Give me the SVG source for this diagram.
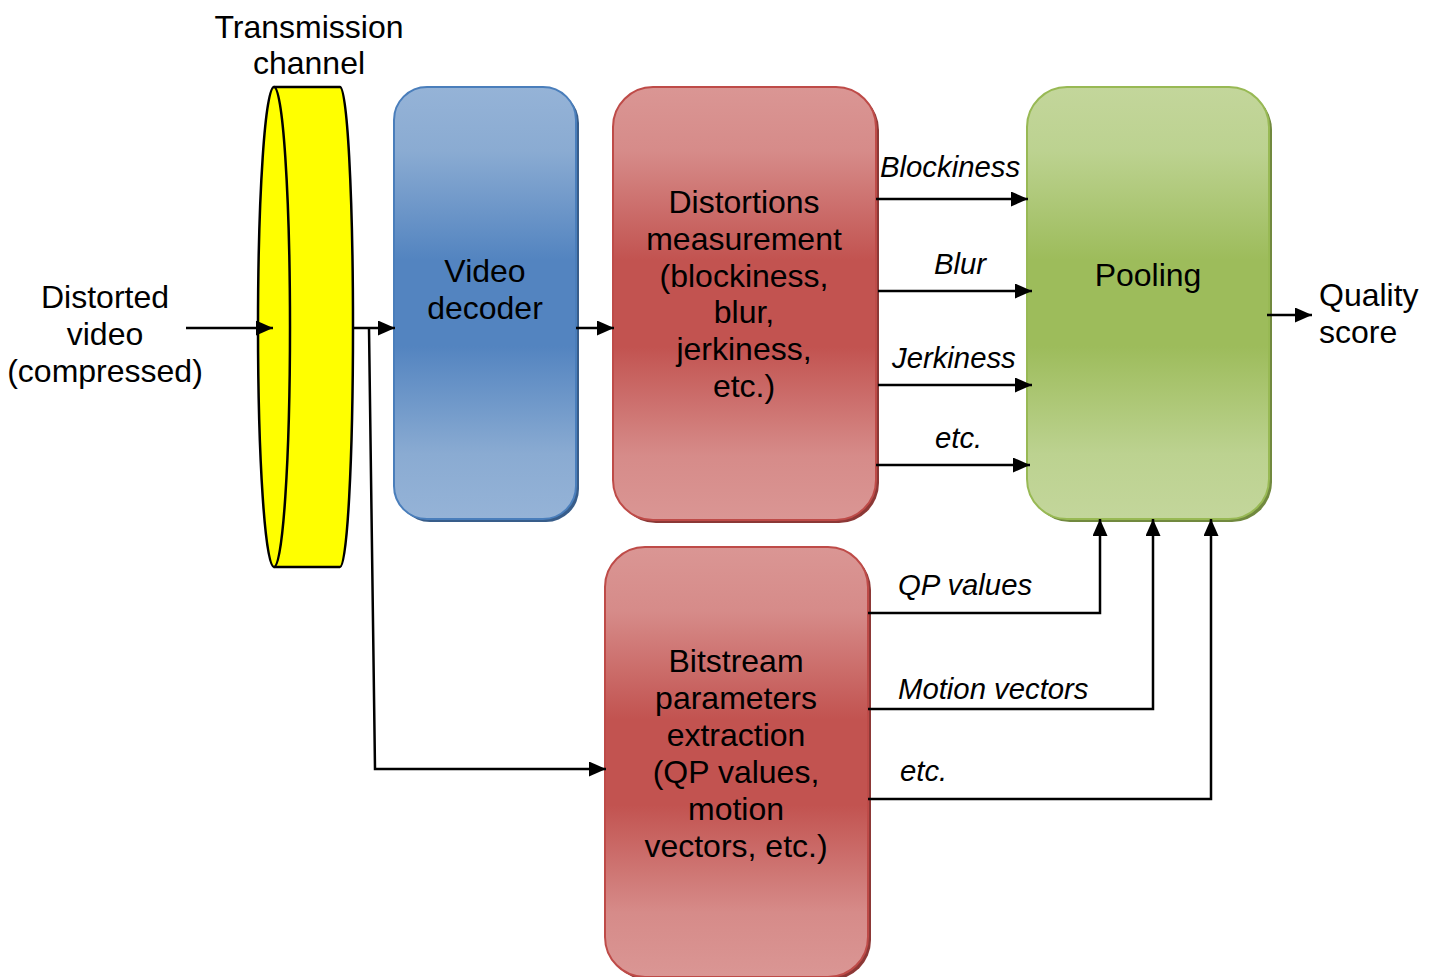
<svg xmlns="http://www.w3.org/2000/svg" width="1435" height="977" viewBox="0 0 1435 977">
<defs>
<linearGradient id="gBlue" x1="0" y1="0" x2="0" y2="1">
<stop offset="0" stop-color="#95b3d7"/><stop offset="0.15" stop-color="#8aabd2"/><stop offset="0.4" stop-color="#5384c0"/><stop offset="0.6" stop-color="#5384c0"/><stop offset="0.85" stop-color="#8aabd2"/><stop offset="1" stop-color="#95b3d7"/>
</linearGradient>
<linearGradient id="gRed" x1="0" y1="0" x2="0" y2="1">
<stop offset="0" stop-color="#da9694"/><stop offset="0.15" stop-color="#d68b89"/><stop offset="0.4" stop-color="#c25350"/><stop offset="0.6" stop-color="#c25350"/><stop offset="0.85" stop-color="#d68b89"/><stop offset="1" stop-color="#da9694"/>
</linearGradient>
<linearGradient id="gGreen" x1="0" y1="0" x2="0" y2="1">
<stop offset="0" stop-color="#c3d69b"/><stop offset="0.15" stop-color="#bcd290"/><stop offset="0.4" stop-color="#9dbc5b"/><stop offset="0.6" stop-color="#9dbc5b"/><stop offset="0.85" stop-color="#bcd290"/><stop offset="1" stop-color="#c3d69b"/>
</linearGradient>
<marker id="arr" markerWidth="17" markerHeight="15" refX="17" refY="7.5" orient="auto" markerUnits="userSpaceOnUse">
<path d="M0,0 L17,7.5 L0,15 Z" fill="#000"/>
</marker>
<style>
text{font-family:"Liberation Sans",Arial,sans-serif;fill:#000}
.lbl{font-size:32px;text-anchor:middle}
.it{font-size:29.3px;font-style:italic}
.conn{stroke:#000;stroke-width:2.5;fill:none}
</style>
</defs>

<g id="transmission-channel">
<path d="M275,87 L340,87 A13,240 0 0 1 340,567 L275,567 Z" fill="#ffff00" stroke="#000" stroke-width="2.5"/>
<ellipse cx="274" cy="327" rx="16" ry="240" fill="#ffff00" stroke="#000" stroke-width="2.5"/>
<text class="lbl" x="309" y="38">Transmission</text>
<text class="lbl" x="309" y="74">channel</text>
</g>

<g id="input-label">
<text class="lbl" x="105" y="308">Distorted</text>
<text class="lbl" x="105" y="345">video</text>
<text class="lbl" x="105" y="382">(compressed)</text>
</g>

<g id="video-decoder">
<rect x="397" y="90" width="182" height="432" rx="33" fill="#385d8a"/>
<rect x="394" y="87" width="182" height="432" rx="33" fill="url(#gBlue)" stroke="#4a7ebb" stroke-width="2"/>
<text class="lbl" x="485" y="282">Video</text>
<text class="lbl" x="485" y="319">decoder</text>
</g>

<g id="distortions">
<rect x="616" y="90" width="263" height="433" rx="40" fill="#8c3836"/>
<rect x="613" y="87" width="263" height="433" rx="40" fill="url(#gRed)" stroke="#be4b48" stroke-width="2"/>
<text class="lbl" x="744" y="213">Distortions</text>
<text class="lbl" x="744" y="250">measurement</text>
<text class="lbl" x="744" y="287">(blockiness,</text>
<text class="lbl" x="744" y="323">blur,</text>
<text class="lbl" x="744" y="360">jerkiness,</text>
<text class="lbl" x="744" y="397">etc.)</text>
</g>

<g id="pooling">
<rect x="1030" y="90" width="242" height="432" rx="40" fill="#71893f"/>
<rect x="1027" y="87" width="242" height="432" rx="40" fill="url(#gGreen)" stroke="#98b954" stroke-width="2"/>
<text class="lbl" x="1148" y="286">Pooling</text>
</g>

<g id="bitstream">
<rect x="608" y="550" width="263" height="430" rx="40" fill="#8c3836"/>
<rect x="605" y="547" width="263" height="430" rx="40" fill="url(#gRed)" stroke="#be4b48" stroke-width="2"/>
<text class="lbl" x="736" y="672">Bitstream</text>
<text class="lbl" x="736" y="709">parameters</text>
<text class="lbl" x="736" y="746">extraction</text>
<text class="lbl" x="736" y="783">(QP values,</text>
<text class="lbl" x="736" y="820">motion</text>
<text class="lbl" x="736" y="857">vectors, etc.)</text>
</g>

<g id="output-label">
<text x="1319" y="306" style="font-size:32px">Quality</text>
<text x="1319" y="343" style="font-size:32px">score</text>
</g>

<g id="connectors">
<line class="conn" x1="186" y1="328" x2="273" y2="328" marker-end="url(#arr)"/>
<line class="conn" x1="353" y1="328" x2="395" y2="328" marker-end="url(#arr)"/>
<polyline class="conn" points="369,328 375,769 606,769" marker-end="url(#arr)"/>
<line class="conn" x1="576" y1="328" x2="614" y2="328" marker-end="url(#arr)"/>
<line class="conn" x1="876" y1="199" x2="1028" y2="199" marker-end="url(#arr)"/>
<line class="conn" x1="878" y1="291" x2="1032" y2="291" marker-end="url(#arr)"/>
<line class="conn" x1="878" y1="385" x2="1032" y2="385" marker-end="url(#arr)"/>
<line class="conn" x1="876" y1="465" x2="1030" y2="465" marker-end="url(#arr)"/>
<line class="conn" x1="1267" y1="315" x2="1312" y2="315" marker-end="url(#arr)"/>
<polyline class="conn" points="868,613 1100,613 1100,519" marker-end="url(#arr)"/>
<polyline class="conn" points="868,709 1153,709 1153,519" marker-end="url(#arr)"/>
<polyline class="conn" points="868,799 1211,799 1211,519" marker-end="url(#arr)"/>
<text class="it" x="880" y="177">Blockiness</text>
<text class="it" x="934" y="274">Blur</text>
<text class="it" x="892" y="368">Jerkiness</text>
<text class="it" x="935" y="448">etc.</text>
<text class="it" x="898" y="595">QP values</text>
<text class="it" x="898" y="699">Motion vectors</text>
<text class="it" x="900" y="781">etc.</text>
</g>
</svg>
